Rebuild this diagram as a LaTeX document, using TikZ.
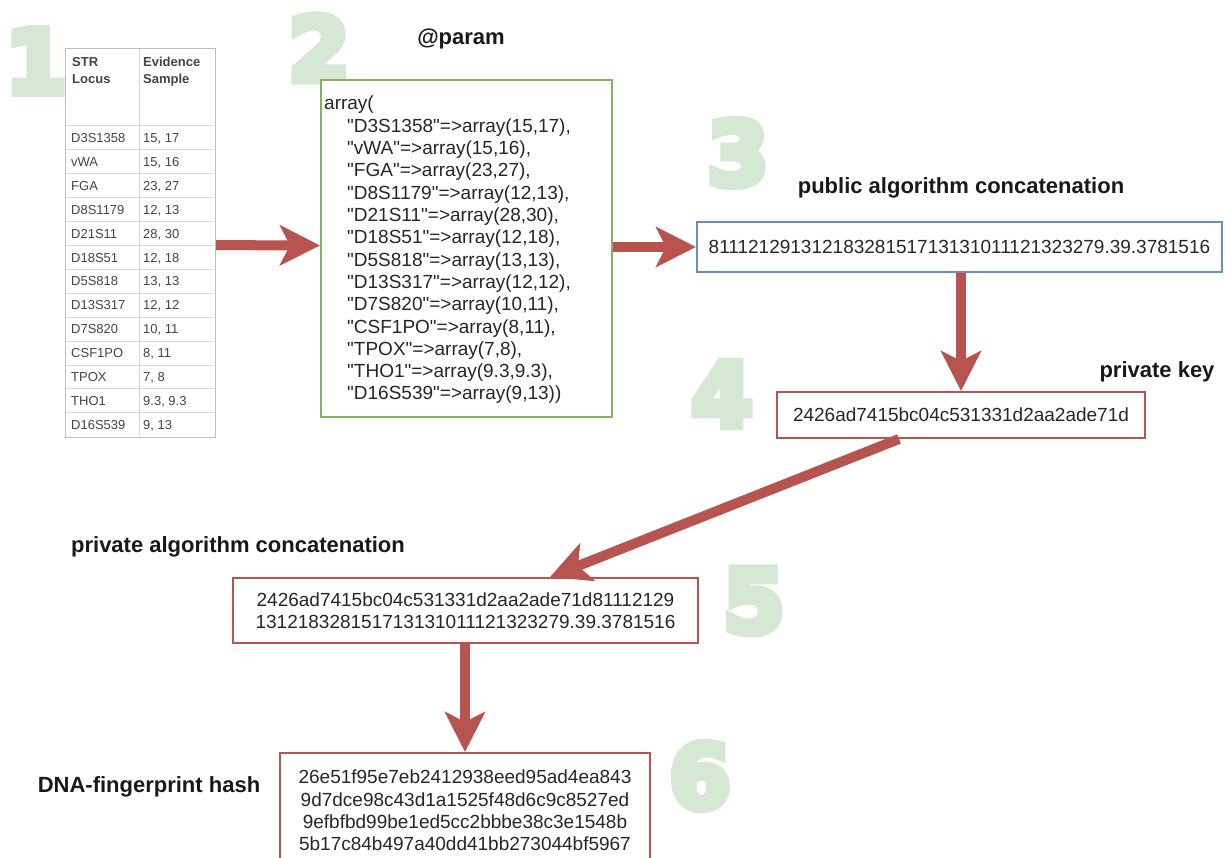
\documentclass[tikz,border=0pt]{standalone}
\usepackage{fontspec}
\setmainfont{Liberation Sans}[Ligatures=TeXOff]
\newfontfamily\numfont{DejaVu Sans}
\usetikzlibrary{arrows.meta,calc}

\definecolor{numgreen}{HTML}{D5E8D4}
\definecolor{boxgreen}{HTML}{82B366}
\definecolor{boxblue}{HTML}{6C8EBF}
\definecolor{boxred}{HTML}{B85450}
\definecolor{celltext}{HTML}{444444}
\definecolor{cellrule}{HTML}{D9D9D9}
\definecolor{tableframe}{HTML}{BDBDBD}
\definecolor{inktext}{HTML}{262626}

% glyph filled and stroked (PDF text render mode 2) for extra-heavy strokes
\newcommand\heavyglyph[1]{\special{pdf:literal direct 2 Tr 8 w 0 j 4 M}#1\special{pdf:literal direct 0 Tr}}

\tikzset{
  bignum/.style={font=\numfont\bfseries\fontsize{88}{88}\selectfont, text=numgreen, inner sep=0pt},
  headline/.style={font=\bfseries\fontsize{22}{26}\selectfont, text=black!90, inner sep=0pt, anchor=base},
  codetext/.style={font=\fontsize{19}{22.3}\selectfont, text=inktext, inner sep=0pt},
  valbox/.style={draw, line width=2pt, fill=white, inner sep=0pt, codetext, align=center},
  flow/.style={draw=boxred, line width=10pt, -{Stealth[length=40pt,width=40pt,inset=10pt]}},
  cell/.style={font=\fontsize{13}{17}\selectfont, text=celltext, inner sep=0pt, anchor=base west},
  cellhead/.style={cell, font=\bfseries\fontsize{13}{17}\selectfont},
}

\begin{document}
\begin{tikzpicture}[x=1pt,y=-1pt]
\useasboundingbox (0,0) rectangle (1225,858);
\clip (0,0) rectangle (1225,858);
\fill[white] (0,0) rectangle (1225,858);

% step numbers
\node[bignum] (n1) at (36,61) {\heavyglyph{1}};
\node[bignum] (n2) at (319,48) {\heavyglyph{2}};
\node[bignum] (n3) at (738,153) {\heavyglyph{3}};
\node[bignum] (n4) at (722,394) {\heavyglyph{4}};
\node[bignum] (n5) at (754,601) {\heavyglyph{5}};
\node[bignum] (n6) at (700,776) {\heavyglyph{6}};

% STR table
\node[draw=tableframe, line width=1.2pt, minimum width=150pt, minimum height=389pt,
      inner sep=0pt, anchor=north west] (tbl) at (65,48) {};
\draw[cellrule, line width=1pt] (139,49) -- (139,436);
\foreach \k in {0,...,12}
  \draw[cellrule, line width=1pt] (66,{126+23.9*\k}) -- (214,{126+23.9*\k});
\node[cellhead] (h1a) at (72,67) {STR};
\node[cellhead] (h1b) at (72,84) {Locus};
\node[cellhead] (h2a) at (143,67) {Evidence};
\node[cellhead] (h2b) at (143,84) {Sample};
\foreach \loc/\val [count=\i from 0] in {
  D3S1358/{15, 17}, vWA/{15, 16}, FGA/{23, 27}, D8S1179/{12, 13},
  D21S11/{28, 30}, D18S51/{12, 18}, D5S818/{13, 13}, D13S317/{12, 12},
  D7S820/{10, 11}, CSF1PO/{8, 11}, TPOX/{7, 8}, THO1/{9.3, 9.3}, D16S539/{9, 13}}
{
  \node[cell] (loc\i) at (71,{142.6+23.9*\i}) {\loc};
  \node[cell] (val\i) at (143,{142.6+23.9*\i}) {\val};
}

% parameter array
\node[valbox, draw=boxgreen, minimum width=291pt, minimum height=337pt, anchor=north west] (param) at (320,79) {};
\node[codetext, anchor=base west] (arr0) at (324,110) {array(};
\foreach \t [count=\i] in {
  {"D3S1358"=>array(15,17),}, {"vWA"=>array(15,16),}, {"FGA"=>array(23,27),},
  {"D8S1179"=>array(12,13),}, {"D21S11"=>array(28,30),}, {"D18S51"=>array(12,18),},
  {"D5S818"=>array(13,13),}, {"D13S317"=>array(12,12),}, {"D7S820"=>array(10,11),},
  {"CSF1PO"=>array(8,11),}, {"TPOX"=>array(7,8),}, {"THO1"=>array(9.3,9.3),},
  {"D16S539"=>array(9,13))}}
{
  \node[codetext, anchor=base west] (arr\i) at (347,{110+22.3*\i}) {\t};
}

% value boxes
\node[valbox, draw=boxblue, minimum width=525pt, minimum height=50pt] (pub) at (959.5,247)
  {81112129131218328151713131011121323279.39.3781516};
\node[valbox, draw=boxred, minimum width=368pt, minimum height=46pt] (key) at (961,415)
  {2426ad7415bc04c531331d2aa2ade71d};
\node[valbox, draw=boxred, minimum width=465pt, minimum height=65pt] (priv) at (465.5,610.5)
  {2426ad7415bc04c531331d2aa2ade71d81112129\\131218328151713131011121323279.39.3781516};
\node[valbox, draw=boxred, minimum width=370pt, minimum height=115pt] (hash) at (465,810.5)
  {26e51f95e7eb2412938eed95ad4ea843\\9d7dce98c43d1a1525f48d6c9c8527ed\\9efbfbd99be1ed5cc2bbbe38c3e1548b\\5b17c84b497a40dd41bb273044bf5967};

% captions
\node[headline] (lparam) at (461,45) {@param};
\node[headline] (lpub) at (961,194) {public algorithm concatenation};
\node[headline] (lkey) at (1157,377) {private key};
\node[headline] (lpriv) at (238,552) {private algorithm concatenation};
\node[headline] (lhash) at (149,792) {DNA-fingerprint hash};

% flow arrows
\draw[flow] ($(tbl.east)+(0,2)$) -- ($(param.west)+(0,-3)$);
\draw[flow] (param.east |- pub.west) -- (pub.west);
\draw[flow] (key.north |- pub.south) -- (key.north);
\draw[flow] ($(key.south)+(-62,0)$) -- ($(priv.north)+(84.5,0)$);
\draw[flow] (hash.north |- priv.south) -- (hash.north);
\end{tikzpicture}
\end{document}
